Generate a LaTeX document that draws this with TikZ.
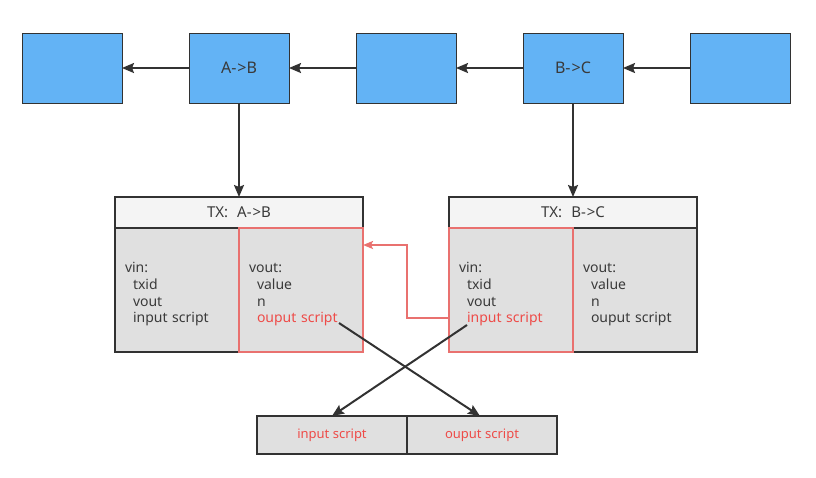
\documentclass[tikz,border=0pt]{standalone}
\usepackage{fontspec}
\setmainfont{Noto Sans}
\usetikzlibrary{positioning}
\usetikzlibrary{arrows.meta}
\definecolor{blockblue}{HTML}{63B3F5}
\definecolor{linegray}{HTML}{323232}
\definecolor{textgray}{HTML}{3A3A3A}
\definecolor{headgray}{HTML}{F4F4F4}
\definecolor{cellgray}{HTML}{E0E0E0}
\definecolor{redline}{HTML}{E9716F}
\definecolor{redtext}{HTML}{EE4B48}
\tikzstyle{block} = [rectangle, draw=linegray, fill=blockblue, line width=1pt, minimum width=100pt, minimum height=70pt, outer sep=0pt, text=textgray, font=\fontsize{16}{19}\selectfont]
\tikzstyle{txhead} = [rectangle, draw=linegray, fill=headgray, line width=2pt, minimum width=248pt, minimum height=31pt, outer sep=0pt, text=textgray, font=\fontsize{15}{18}\selectfont]
\tikzstyle{txcell} = [rectangle, draw=linegray, fill=cellgray, line width=2pt, text width=104pt, inner xsep=10pt, minimum height=124pt, outer sep=0pt, align=left, text=textgray, font=\fontsize{14}{16.7}\selectfont]
\tikzstyle{txred} = [txcell, draw=redline]
\tikzstyle{scriptbox} = [rectangle, draw=linegray, fill=cellgray, line width=2pt, minimum width=150pt, minimum height=38pt, outer sep=0pt, text=redtext, font=\fontsize{13}{15}\selectfont]
\tikzstyle{arrow} = [line width=2pt, draw=linegray, -{Stealth[length=12pt,width=10pt,inset=2pt]}]
\tikzstyle{redarrow} = [line width=2pt, draw=redline, -{Stealth[length=10pt,width=8pt,inset=2pt]}]
\newcommand{\ind}{\hspace*{8pt}}
\newcommand{\topgap}{\rule{0pt}{19pt}}

\begin{document}
\begin{tikzpicture}[x=1pt,y=1pt]
\useasboundingbox (0,0) rectangle (816,-477);

\node (b1) [block] at (72,-68) {};
\node (b2) [block, right=67pt of b1] {A-\hspace{1pt}>B};
\node (b3) [block, right=67pt of b2] {};
\node (b4) [block, right=67pt of b3] {B-\hspace{1pt}>C};
\node (b5) [block, right=67pt of b4] {};

\node (headAB) [txhead, below=94pt of b2] {TX:\hspace{9pt}A-\hspace{1pt}>B};
\node (inAB) [txcell, below right=0pt and 0pt of headAB.south west] {\topgap vin:\\\ind txid\\\ind vout\\\ind input script};
\node (outAB) [txred, right=0pt of inAB] {\topgap vout:\\\ind value\\\ind n\\\ind\textcolor{redtext}{ouput script}};

\node (headBC) [txhead, below=94pt of b4] {TX:\hspace{9pt}B-\hspace{1pt}>C};
\node (outBC) [txcell, below left=0pt and 0pt of headBC.south east] {\topgap vout:\\\ind value\\\ind n\\\ind ouput script};
\node (inBC) [txred, left=0pt of outBC] {\topgap vin:\\\ind txid\\\ind vout\\\ind\textcolor{redtext}{input script}};

\node (inS) [scriptbox] at (332,-435) {input script};
\node (outS) [scriptbox, right=0pt of inS] {ouput script};

\coordinate (osAB) at ([xshift=38pt,yshift=-33pt]outAB.center);
\coordinate (isBC) at ([xshift=-44pt,yshift=-35pt]inBC.center);

\draw [arrow] (b2) -- (b1);
\draw [arrow] (b3) -- (b2);
\draw [arrow] (b4) -- (b3);
\draw [arrow] (b5) -- (b4);
\draw [arrow] (b2) -- (headAB);
\draw [arrow] (b4) -- (headBC);

\draw [redarrow] ([yshift=-28pt]inBC.west) -- ++(-42pt,0) |- ([yshift=45pt]outAB.east);

\draw [arrow] (osAB) -- ([xshift=-2pt]outS.north);
\draw [arrow] (isBC) -- (inS.north);

\end{tikzpicture}
\end{document}
